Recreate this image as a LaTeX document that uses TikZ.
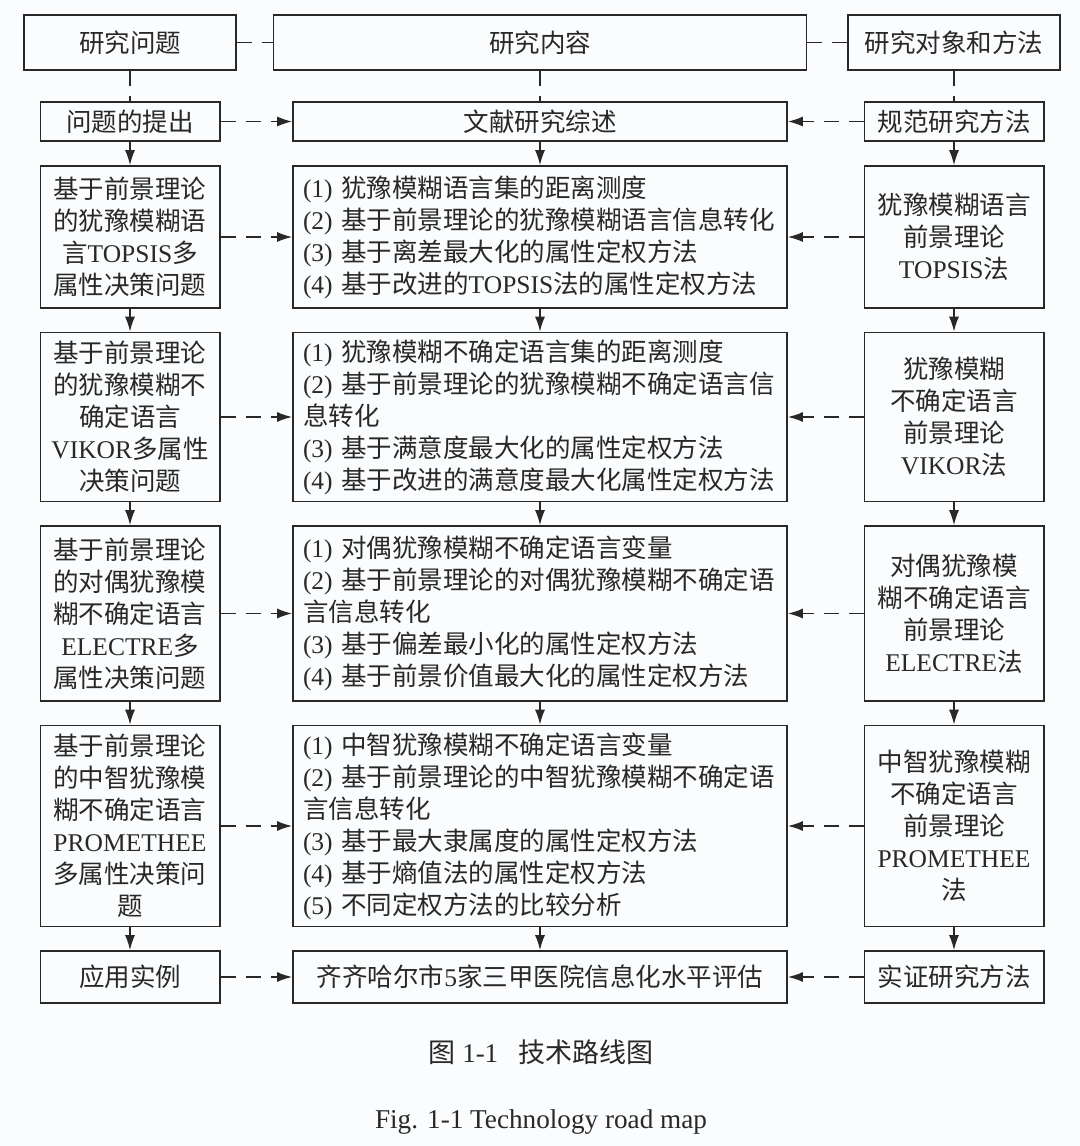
\documentclass[tikz,border=0pt]{standalone}
\usepackage{fontspec}
\setmainfont{Noto Sans CJK SC}
\newfontfamily\latfont{Liberation Serif}
\newcommand\eng[1]{{\latfont #1}}
\usetikzlibrary{arrows.meta}
\definecolor{paper}{RGB}{250,252,253}
\definecolor{ink}{RGB}{40,40,40}

\begin{document}
\begin{tikzpicture}
		[x=0.5pt,y=-0.5pt,
		every node/.style={font=\fontsize{12.75pt}{16pt}\selectfont, text=ink},
		box/.style={draw=ink, line width=0.8pt, inner sep=0pt, align=center, minimum width=89.7pt},
		topbox/.style={box, minimum height=27.5pt},
		itembox/.style={box, align=left, text width=237pt, minimum width=247pt},
		dashlink/.style={draw=ink, line width=0.8pt, dash pattern=on 7.5pt off 5pt},
		flow/.style={draw=ink, line width=0.8pt, -{Latex[length=7.5pt,width=5pt]}},
		hint/.style={dashlink, -{Latex[length=7.5pt,width=5pt]}}]
		\fill[paper] (0,0) rectangle (1080,1146);
		\useasboundingbox (0,0) rectangle (1080,1146);
		\node[topbox, minimum width=106pt] (q0) at (130,42.5) {研究问题};
		\node[topbox, minimum width=266.5pt] (c0) at (540,42.5) {研究内容};
		\node[topbox, minimum width=106.2pt] (m0) at (954,42.5) {研究对象和方法};
		\node[box, minimum height=19.5pt] (q1) at (130,121.5) {问题的提出};
		\node[box, minimum width=247pt, minimum height=19.5pt] (c1) at (540,121.5) {文献研究综述};
		\node[box, minimum height=19.5pt] (m1) at (954,121.5) {规范研究方法};
		\node[box, minimum height=71pt] (q2) at (130,237) {基于前景理论\\的犹豫模糊语\\言\eng{TOPSIS}多\\属性决策问题};
		\node[itembox, minimum height=71pt] (c2) at (540,237) {\eng{(1) }犹豫模糊语言集的距离测度\\\eng{(2) }基于前景理论的犹豫模糊语言信息转化\\\eng{(3) }基于离差最大化的属性定权方法\\\eng{(4) }基于改进的\eng{TOPSIS}法的属性定权方法};
		\node[box, minimum height=71pt] (m2) at (954,237) {犹豫模糊语言\\前景理论\\\eng{TOPSIS}法};
		\node[box, minimum height=84.5pt] (q3) at (130,417) {基于前景理论\\的犹豫模糊不\\确定语言\\\eng{VIKOR}多属性\\决策问题};
		\node[itembox, minimum height=84.5pt] (c3) at (540,417) {\eng{(1) }犹豫模糊不确定语言集的距离测度\\\eng{(2) }基于前景理论的犹豫模糊不确定语言信\\息转化\\\eng{(3) }基于满意度最大化的属性定权方法\\\eng{(4) }基于改进的满意度最大化属性定权方法};
		\node[box, minimum height=84.5pt] (m3) at (954,417) {犹豫模糊\\不确定语言\\前景理论\\\eng{VIKOR}法};
		\node[box, minimum height=87.5pt] (q4) at (130,613.5) {基于前景理论\\的对偶犹豫模\\糊不确定语言\\\eng{ELECTRE}多\\属性决策问题};
		\node[itembox, minimum height=87.5pt] (c4) at (540,613.5) {\eng{(1) }对偶犹豫模糊不确定语言变量\\\eng{(2) }基于前景理论的对偶犹豫模糊不确定语\\言信息转化\\\eng{(3) }基于偏差最小化的属性定权方法\\\eng{(4) }基于前景价值最大化的属性定权方法};
		\node[box, minimum height=87.5pt] (m4) at (954,613.5) {对偶犹豫模\\糊不确定语言\\前景理论\\\eng{ELECTRE}法};
		\node[box, minimum height=100.5pt] (q5) at (130,826) {基于前景理论\\的中智犹豫模\\糊不确定语言\\\eng{PROMETHEE}\\多属性决策问\\题};
		\node[itembox, minimum height=100.5pt] (c5) at (540,826) {\eng{(1) }中智犹豫模糊不确定语言变量\\\eng{(2) }基于前景理论的中智犹豫模糊不确定语\\言信息转化\\\eng{(3) }基于最大隶属度的属性定权方法\\\eng{(4) }基于熵值法的属性定权方法\\\eng{(5) }不同定权方法的比较分析};
		\node[box, minimum height=100.5pt] (m5) at (954,826) {中智犹豫模糊\\不确定语言\\前景理论\\\eng{PROMETHEE}\\法};
		\node[box, minimum height=26pt] (q6) at (130,977) {应用实例};
		\node[box, minimum width=247pt, minimum height=26pt] (c6) at (540,977) {齐齐哈尔市\eng{5}家三甲医院信息化水平评估};
		\node[box, minimum height=26pt] (m6) at (954,977) {实证研究方法};
		\node[font=\fontsize{13.5pt}{16pt}\selectfont, anchor=base] (cap1) at (541,1062) {图\eng{ 1-1}\hspace{0.75em}技术路线图};
		\node[font=\fontsize{13.6pt}{16pt}\selectfont, anchor=base] (cap2) at (541,1128) {\eng{Fig. 1-1 Technology road map}};
		\draw[dashlink] (q0) -- (c0);
		\draw[dashlink] (c0) -- (m0);
		\foreach \col in {q,c,m}
		{
			\draw[dashlink] (\col0) -- (\col1);
			\foreach \a/\b in {1/2,2/3,3/4,4/5,5/6}
				\draw[flow] (\col\a) -- (\col\b);
		}
		\foreach \i in {1,...,6}
		{
			\draw[hint] (q\i) -- (c\i);
			\draw[hint] (m\i) -- (c\i);
		}
	\end{tikzpicture}
\end{document}
